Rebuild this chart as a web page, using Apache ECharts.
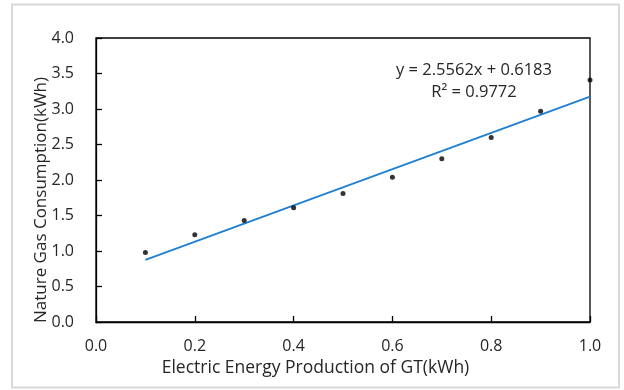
<!DOCTYPE html>
<html>
<head>
<meta charset="utf-8">
<script src="https://cdn.jsdelivr.net/npm/echarts@6/dist/echarts.min.js"></script>
<style>
  html, body { margin: 0; padding: 0; background: #fff; }
  #chart { width: 624px; height: 390px; }
</style>
</head>
<body>
<div id="chart"></div>
<script>
// measured points
const xValues = [0.1, 0.2, 0.3, 0.4, 0.5, 0.6, 0.7, 0.8, 0.9, 1.0]
const yValues = [0.98, 1.23, 1.43, 1.61, 1.81, 2.04, 2.30, 2.60, 2.97, 3.41]

// trendline from the fitted equation
const slope = 2.5562
const intercept = 0.6183
const rSquared = 0.9772
const trendX = [0.1, 1.0]

const font = '"Open Sans", sans-serif'
const textColor = '#262626'

const chart = echarts.init(document.getElementById('chart'))

const points = xValues.map((x, i) => [x, yValues[i]])
const trend = trendX.map(x => [x, slope * x + intercept])

const option = {
  animation: false,
  textStyle: { fontFamily: font },
  grid: {
    left: 96,
    right: 34,
    top: 38,
    bottom: 68,
    show: true,
    borderColor: '#000',
    borderWidth: 1.3
  },
  xAxis: {
    type: 'value',
    min: 0,
    max: 1,
    interval: 0.2,
    name: 'Electric Energy Production of GT(kWh)',
    nameLocation: 'middle',
    nameGap: 36,
    nameTextStyle: { fontSize: 17.5, color: textColor, fontFamily: font, padding: [0, 55, 0, 0] },
    axisLine: { lineStyle: { color: '#000', width: 1.3 } },
    axisTick: { inside: true, length: 6, lineStyle: { color: '#000', width: 1.3 } },
    axisLabel: {
      margin: 16,
      fontSize: 16,
      color: textColor,
      fontFamily: font,
      formatter: v => v.toFixed(1)
    },
    splitLine: { show: false }
  },
  yAxis: {
    type: 'value',
    min: 0,
    max: 4,
    interval: 0.5,
    name: 'Nature Gas Consumption(kWh)',
    nameLocation: 'middle',
    nameRotate: 90,
    nameGap: 46,
    nameMoveOverlap: false,
    nameTextStyle: { fontSize: 17, color: textColor, fontFamily: font, padding: [0, 40, 0, 0] },
    axisLine: { lineStyle: { color: '#000', width: 1.3 } },
    axisTick: { inside: true, length: 6, lineStyle: { color: '#000', width: 1.3 } },
    axisLabel: {
      margin: 22,
      fontSize: 16,
      color: textColor,
      fontFamily: font,
      formatter: v => v.toFixed(1)
    },
    splitLine: { show: false }
  },
  graphic: [
    {
      type: 'rect',
      shape: { x: 12, y: 4.5, width: 607, height: 383 },
      style: { fill: 'none', stroke: '#d9d9d9', lineWidth: 2 },
      silent: true
    },
    {
      type: 'text',
      x: 474,
      y: 59,
      style: {
        text: 'y = ' + slope + 'x + ' + intercept + '\nR² = ' + rSquared,
        align: 'center',
        fontSize: 16.5,
        lineHeight: 22,
        fill: textColor,
        fontFamily: font
      }
    }
  ],
  series: [
    {
      type: 'line',
      data: trend,
      symbol: 'none',
      lineStyle: { color: '#1f7fd0', width: 1.8 },
      z: 2
    },
    {
      type: 'scatter',
      data: points,
      symbol: 'circle',
      symbolSize: 5,
      itemStyle: { color: '#000' },
      z: 3
    }
  ]
}

chart.setOption(option)
</script>
</body>
</html>
